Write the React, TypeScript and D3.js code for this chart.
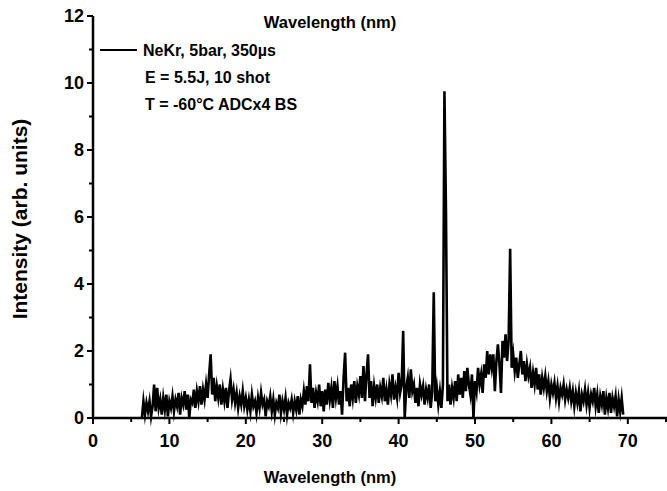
import React from "react";
import * as d3 from "d3";

const W = 667;
const H = 491;

// Sampling grid of the spectrum (nm)
const wavelengthStart = 6.4;
const wavelengthStep = 0.2;

// Intensity (arb. units), one row per nm starting at 6.4 nm, 0.2 nm step
const intensity: number[] = [
  0.0, 0.5, 0.1, 0.45, 0.2,
  0.5, 0.05, 0.35, 1.0, 0.2,
  0.9, 0.3, 0.55, 0.1, 0.6,
  0.25, 0.7, 0.05, 0.5, 0.3,
  0.65, 0.2, 0.55, 0.35, 0.75,
  0.1, 0.6, 0.4, 0.8, 0.25,
  0.7, 0.0, 0.55, 0.45, 0.85,
  0.3, 0.8, 0.5, 0.95, 0.4,
  0.85, 0.55, 1.0, 0.6, 1.3,
  1.9, 0.7, 1.2, 0.5, 0.95,
  0.6, 1.0, 0.4, 0.85, 0.5,
  0.9, 0.3, 0.8, 1.15, 0.55,
  0.85, 0.45, 0.75, 0.3, 0.65,
  0.4, 0.8, 0.35, 0.6, 0.25,
  0.55, 0.2, 0.7, 0.35, 0.5,
  0.15, 0.6, 0.3, 0.75, 0.4,
  0.55, 0.05, 0.5, 0.35, 0.65,
  0.2, 0.55, 0.1, 0.45, 0.3,
  0.7, 0.15, 0.5, 0.25, 0.6,
  0.1, 0.45, 0.3, 0.55, 0.15,
  0.5, 0.25, 0.65, 0.1, 0.55,
  0.35, 0.8, 0.4, 0.95, 0.5,
  1.6, 0.45, 0.9, 0.3, 0.75,
  0.5, 1.0, 0.35, 0.8, 0.2,
  0.85, 0.4, 1.05, 0.55, 0.9,
  0.3, 1.1, 0.6, 0.95, 0.4,
  0.8, 0.1, 1.2, 1.95, 0.5,
  0.9, 0.35, 1.0, 0.6, 1.1,
  0.45, 0.95, 0.7, 1.25, 0.6,
  1.55, 0.5, 1.3, 1.9, 0.6,
  1.1, 0.35, 0.95, 0.6, 1.0,
  0.45, 0.9, 0.65, 1.2, 0.5,
  0.85, 0.4, 1.0, 0.7, 1.3,
  0.55, 0.9, 0.6, 1.35, 0.75,
  1.0, 2.6, 0.0, 0.9, 1.2,
  0.6, 1.45, 0.8, 1.0, 0.45,
  0.9, 0.35, 1.0, 0.7, 0.95,
  0.4, 0.85, 0.6, 1.0, 0.3,
  0.8, 3.75, 0.5, 0.9, 0.4,
  0.8, 0.3, 1.0, 9.75, 6.2,
  0.5, 1.0, 0.4, 0.9, 0.6,
  1.1, 0.5, 1.3, 0.7, 1.2,
  0.6, 1.4, 0.8, 1.5, 1.0,
  0.7, 1.3, 0.0, 1.1, 0.8,
  1.5, 1.0, 1.3, 0.75, 1.6,
  1.2, 2.0, 1.3, 1.9, 1.5,
  1.9, 0.8, 1.7, 2.2, 1.6,
  0.75, 2.3, 1.8, 2.5, 1.7,
  2.3, 5.05, 1.5, 1.9, 1.4,
  1.8, 1.2, 1.6, 2.0, 1.3,
  1.7, 1.1, 1.6, 1.25, 1.5,
  0.9, 1.35, 1.0, 1.5, 0.85,
  1.3, 0.7, 1.2, 0.9, 1.25,
  0.8, 1.1, 0.6, 1.0, 0.75,
  1.05, 0.6, 0.95, 0.5, 0.9,
  0.7, 1.0, 0.55, 0.85, 0.6,
  0.9, 0.5, 0.8, 0.35, 0.75,
  0.45, 0.8, 0.2, 0.7, 0.5,
  0.85, 0.4, 0.75, 0.3, 0.7,
  0.5, 0.9, 0.35, 0.7, 0.15,
  0.65, 0.4, 0.8, 0.1, 0.6,
  0.3, 0.75, 0.15, 0.6, 0.35,
  0.65, 0.05, 0.55, 0.2, 0.6,
  0.1,
];

const xMajorTicks = [0, 10, 20, 30, 40, 50, 60, 70];
const xMinorTicks = [5, 15, 25, 35, 45, 55, 65, 75];
const yMajorTicks = [0, 2, 4, 6, 8, 10, 12];
const yMinorTicks = [1, 3, 5, 7, 9, 11];

const legendLabel = "NeKr, 5bar, 350\u00b5s";
const noteLines = ["E = 5.5J, 10 shot", "T = -60\u00b0C ADCx4 BS"];
const xTitle = "Wavelength (nm)";
const yTitle = "Intensity (arb. units)";

const FONT = "'Liberation Sans', Arial, sans-serif";

export default function App() {
  const left = 93;
  const right = 666;
  const top = 16;
  const bottom = 418;

  const x = d3.scaleLinear().domain([0, 75]).range([left, right]);
  const y = d3.scaleLinear().domain([0, 12]).range([bottom, top]);

  const data = intensity.map((v, i) => [wavelengthStart + i * wavelengthStep, v] as [number, number]);
  const line = d3
    .line<[number, number]>()
    .x((d) => x(d[0]))
    .y((d) => y(d[1]));

  return (
    <svg
      width={W}
      height={H}
      style={{ position: "absolute", left: 0, top: 0, background: "#fff" }}
      fontFamily={FONT}
      fontWeight="bold"
    >
      <rect width={W} height={H} fill="#fff" />
      {/* spectrum */}
      <path d={line(data) || ""} fill="none" stroke="#000" strokeWidth={2.6} strokeLinejoin="miter" strokeMiterlimit={10} />

      {/* axes */}
      <line x1={left} x2={left} y1={top} y2={bottom + 1} stroke="#000" strokeWidth={2.5} />
      <line x1={left - 1} x2={right + 2} y1={bottom} y2={bottom} stroke="#000" strokeWidth={2.5} />

      {yMajorTicks.map((t) => (
        <g key={"ym" + t}>
          <line x1={left - 6} x2={left} y1={y(t)} y2={y(t)} stroke="#000" strokeWidth={2} />
          <text x={left - 9} y={y(t)} dy="0.36em" textAnchor="end" fontSize={18}>
            {t}
          </text>
        </g>
      ))}
      {yMinorTicks.map((t) => (
        <line key={"yn" + t} x1={left - 4} x2={left} y1={y(t)} y2={y(t)} stroke="#000" strokeWidth={2} />
      ))}
      {xMajorTicks.map((t) => (
        <g key={"xm" + t}>
          <line x1={x(t)} x2={x(t)} y1={bottom} y2={bottom + 6} stroke="#000" strokeWidth={2} />
          <text x={x(t)} y={bottom + 29} textAnchor="middle" fontSize={18}>
            {t}
          </text>
        </g>
      ))}
      {xMinorTicks.map((t) => (
        <line key={"xn" + t} x1={x(t)} x2={x(t)} y1={bottom} y2={bottom + 4} stroke="#000" strokeWidth={2} />
      ))}

      {/* titles */}
      <text x={330} y={28} textAnchor="middle" fontSize={16.5}>
        {xTitle}
      </text>
      <text x={330} y={483} textAnchor="middle" fontSize={16.5}>
        {xTitle}
      </text>
      <text
        transform={`translate(27, ${(top + bottom) / 2 + 2}) rotate(-90)`}
        textAnchor="middle"
        fontSize={21}
      >
        {yTitle}
      </text>

      {/* legend */}
      <line x1={100} x2={137} y1={50} y2={50} stroke="#000" strokeWidth={2} />
      <text x={143} y={56} fontSize={16}>
        {legendLabel}
      </text>
      {noteLines.map((s, i) => (
        <text key={s} x={145} y={83 + i * 27} fontSize={16}>
          {s}
        </text>
      ))}
    </svg>
  );
}
